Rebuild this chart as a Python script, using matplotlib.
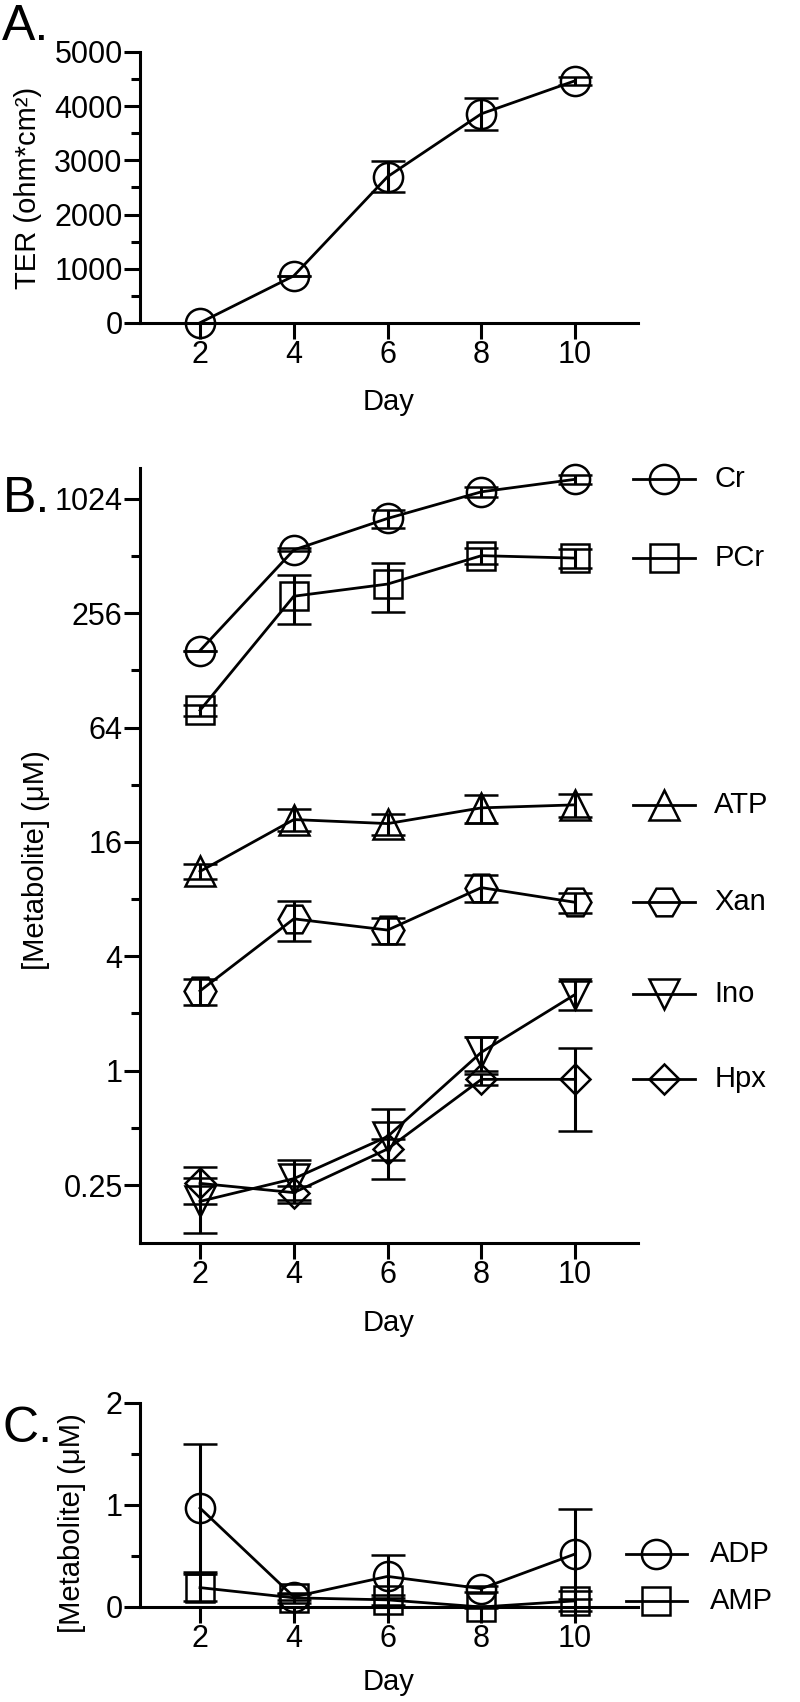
import matplotlib
matplotlib.use('Agg')
import matplotlib.pyplot as plt
from matplotlib.transforms import blended_transform_factory

plt.rcParams['font.family'] = ['Liberation Sans', 'DejaVu Sans']

# ---------------- data ----------------
days = [2, 4, 6, 8, 10]

# Panel A: TER
ter_mean = [5, 870, 2700, 3860, 4470]
ter_sem = [0, 0, 280, 290, 70]

# Panel B: metabolites (log2 axis)
cr_mean = [163, 552, 809, 1117, 1300]
cr_sem = [0, 10, 89, 72, 66]
pcr_mean = [79, 315, 365, 515, 500]
pcr_sem = [5, 90, 105, 50, 56]
atp_mean = [11.2, 21.0, 20.0, 24.2, 25.1]
atp_sem = [1.0, 2.8, 2.5, 4.1, 3.5]
xan_mean = [2.63, 6.3, 5.5, 9.2, 7.7]
xan_sem = [0.4, 1.5, 0.85, 1.47, 0.95]
ino_mean = [0.205, 0.27, 0.45, 1.25, 2.52]
ino_sem = [0.066, 0.07, 0.18, 0.25, 0.44]
hpx_mean = [0.255, 0.228, 0.387, 0.90, 0.90]
hpx_sem = [0.057, 0.02, 0.048, 0.06, 0.42]

b_names = ['Cr', 'PCr', 'ATP', 'Xan', 'Ino', 'Hpx']
b_means = [cr_mean, pcr_mean, atp_mean, xan_mean, ino_mean, hpx_mean]
b_sems = [cr_sem, pcr_sem, atp_sem, xan_sem, ino_sem, hpx_sem]
b_yticks = [0.25, 1, 4, 16, 64, 256, 1024]
b_yticklabels = ['0.25', '1', '4', '16', '64', '256', '1024']
b_yminor = [0.5, 2, 8, 32, 128, 512]

# Panel C
adp_mean = [0.97, 0.10, 0.30, 0.18, 0.52]
adp_sem = [0.63, 0.03, 0.21, 0.03, 0.44]
amp_mean = [0.19, 0.09, 0.07, 0.0, 0.06]
amp_sem = [0.13, 0.05, 0.05, 0.01, 0.10]
c_names = ['ADP', 'AMP']
c_means = [adp_mean, amp_mean]
c_sems = [adp_sem, amp_sem]

# ---------------- styles ----------------
b_markers = ['o', 's', '^', 'H', 'v', 'D']
b_msizes = [21, 20, 21, 23, 21, 15]
c_markers = ['o', 's']
c_msizes = [21, 20]
TFS = 22   # tick labels
LFS = 21   # axis labels / legend
LW = 2.0
SW = 2.2

fig = plt.figure(figsize=(8, 17.02), dpi=100)
W, H = 800.0, 1702.0

def axes_px(left, right, top, bottom):
    return fig.add_axes([left / W, 1 - bottom / H, (right - left) / W, (bottom - top) / H])

axA = axes_px(140, 638, 52, 323)
axB = axes_px(140, 638, 468, 1243)
axC = axes_px(140, 638, 1403, 1607)


def style_axis(ax):
    for s in ['top', 'right']:
        ax.spines[s].set_visible(False)
    for s in ['left', 'bottom']:
        ax.spines[s].set_linewidth(SW)
    ax.tick_params(which='major', length=11.5, width=SW, labelsize=TFS, pad=1, color='k')
    ax.tick_params(which='minor', length=6.5, width=SW, color='k')
    ax.set_xlim(0.72, 11.34)
    ax.set_xticks(days)
    ax.set_xticklabels([str(d) for d in days])


def draw_series(ax, mean, sem, marker, ms):
    cont = ax.errorbar(days, mean, yerr=sem, color='k', marker=marker, ms=ms,
                       mfc='none', mec='k', mew=1.8, lw=LW, capsize=12.5,
                       capthick=SW, elinewidth=SW, zorder=3)
    for art in cont.get_children():
        art.set_clip_on(False)


def legend_entry(ax, y, name, marker, ms, x0, x1, xt):
    tr = blended_transform_factory(ax.transAxes, ax.transData)
    ax.plot([x0, x1], [y, y], color='k', lw=LW, transform=tr, clip_on=False)
    ax.plot([(x0 + x1) / 2], [y], marker=marker, ms=ms, mfc='none', mec='k',
            mew=1.8, transform=tr, clip_on=False, linestyle='none')
    ax.text(xt, y, name, transform=tr, va='center', ha='left', fontsize=LFS)

# ---------------- Panel A ----------------
style_axis(axA)
draw_series(axA, ter_mean, ter_sem, 'o', 21)
axA.set_ylim(0, 5000)
axA.set_yticks([0, 1000, 2000, 3000, 4000, 5000])
axA.set_yticks([500, 1500, 2500, 3500, 4500], minor=True)
axA.set_ylabel('TER (ohm*cm²)', fontsize=LFS)
axA.yaxis.set_label_coords(-0.197, 0.5)
axA.set_xlabel('Day', fontsize=LFS)
axA.xaxis.set_label_coords(0.5, -0.24)

# ---------------- Panel B ----------------
style_axis(axB)
axB.set_yscale('log', base=2)
for m, s, mk, ms in zip(b_means, b_sems, b_markers, b_msizes):
    draw_series(axB, m, s, mk, ms)
axB.set_ylim(2 ** -3.0145, 2 ** 10.542)
axB.set_yticks(b_yticks)
axB.set_yticklabels(b_yticklabels)
axB.set_yticks(b_yminor, minor=True)
axB.set_yticklabels([''] * len(b_yminor), minor=True)
axB.set_ylabel('[Metabolite] (μM)', fontsize=LFS)
axB.yaxis.set_label_coords(-0.181, 0.494)
axB.set_xlabel('Day', fontsize=LFS)
axB.xaxis.set_label_coords(0.5, -0.085)
for name, m, mk, ms in zip(b_names, b_means, b_markers, b_msizes):
    legend_entry(axB, m[-1], name, mk, ms, 0.990, 1.114, 1.153)

# ---------------- Panel C ----------------
style_axis(axC)
for m, s, mk, ms in zip(c_means, c_sems, c_markers, c_msizes):
    draw_series(axC, m, s, mk, ms)
axC.set_ylim(0, 2)
axC.set_yticks([0, 1, 2])
axC.set_yticks([0.5, 1.5], minor=True)
axC.set_ylabel('[Metabolite] (μM)', fontsize=LFS)
axC.yaxis.set_label_coords(-0.108, 0.41)
axC.set_xlabel('Day', fontsize=LFS)
axC.xaxis.set_label_coords(0.5, -0.30)
for name, m, mk, ms in zip(c_names, c_means, c_markers, c_msizes):
    legend_entry(axC, m[-1], name, mk, ms, 0.976, 1.098, 1.145)

# ---------------- panel letters ----------------
fig.text(0.003, 1 - 40 / H, 'A.', fontsize=36, va='baseline', ha='left')
fig.text(0.003, 1 - 512 / H, 'B.', fontsize=36, va='baseline', ha='left')
fig.text(0.003, 1 - 1442 / H, 'C.', fontsize=36, va='baseline', ha='left')

fig.savefig('out.png', dpi=100)
